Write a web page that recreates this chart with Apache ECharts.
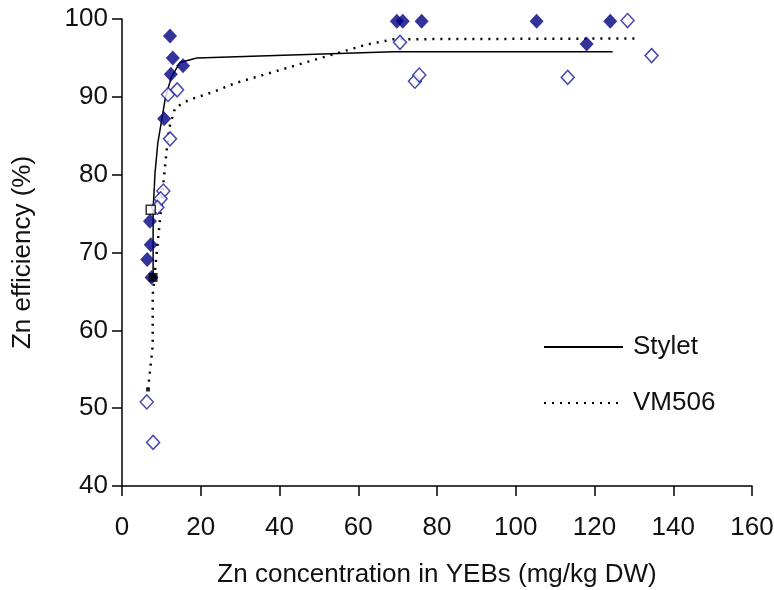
<!DOCTYPE html>
<html>
<head>
<meta charset="utf-8">
<script src="https://cdn.jsdelivr.net/npm/echarts@6/dist/echarts.min.js"></script>
<style>html,body{margin:0;padding:0;background:#fff}#c{width:774px;height:590px}</style>
</head>
<body>
<div id="c"></div>
<script>
// Observed data: Stylet (filled diamonds)
var styletPoints = [[12.2,97.8],[12.9,95],[15.5,94],[12.4,92.9],[10.7,87.2],[7.1,74],[7.3,71],[6.4,69.1],[7.5,66.8],
  [69.8,99.7],[71.3,99.7],[76.1,99.7],[105.3,99.7],[124,99.7],[118,96.8]];
// Observed data: VM506 (open diamonds)
var vm506Points = [[11.7,90.3],[14,90.9],[12.2,84.6],[10.5,77.9],[9.8,76.9],[9.0,75.8],[6.3,50.8],[7.9,45.6],
  [70.6,97],[74.4,92],[75.5,92.8],[128.4,99.8],[134.5,95.3],[113.2,92.5]];
// Fitted curves
var styletFit = [[7.9,66.8],[7.9,75.5],[8.4,80.3],[9.1,84.1],[10.1,87.1],[11,89.8],[12.5,92.5],[14.7,94.4],[19,95],[69,95.8],[124.6,95.8]];
var vm506Fit = [[6.6,52.4],[7.8,58],[7.8,64.5],[8.5,68.3],[9.5,73.5],[11,81.5],[12,86],[13.5,88.6],[17,89.6],[23,90.6],[29,91.8],[62,96.7],[69,97.4],[131.5,97.5]];
// Extra square markers
var openSquares = [[7.3,75.5]];
var filledSquares = [[7.9,66.8]];
var smallSquares = [[6.6,52.4]];
var xTicks = {min:0, max:160, interval:20};
var yTicks = {min:40, max:100, interval:10};

var FONT = 'Liberation Sans';
var chart = echarts.init(document.getElementById('c'));
chart.setOption({
  animation:false,
  backgroundColor:'#fff',
  textStyle:{fontFamily:FONT},
  grid:{left:122, right:22, top:19, bottom:104, containLabel:false, outerBoundsMode:'none'},
  xAxis:{type:'value', min:xTicks.min, max:xTicks.max, interval:xTicks.interval,
    name:'Zn concentration in YEBs (mg/kg DW)', nameLocation:'middle', nameGap:76,
    nameTextStyle:{fontSize:26, color:'#111', fontFamily:FONT},
    axisLine:{lineStyle:{color:'#000', width:1.5}},
    axisTick:{inside:false, length:10, lineStyle:{color:'#000', width:1.5}},
    axisLabel:{fontSize:26, color:'#111', margin:29, fontFamily:FONT},
    splitLine:{show:false}},
  yAxis:{type:'value', min:yTicks.min, max:yTicks.max, interval:yTicks.interval,
    name:'Zn efficiency (%)', nameLocation:'middle', nameGap:86,
    nameTextStyle:{fontSize:26, color:'#111', fontFamily:FONT},
    axisLine:{show:true, lineStyle:{color:'#000', width:1.5}},
    axisTick:{show:true, inside:false, length:10, lineStyle:{color:'#000', width:1.5}},
    axisLabel:{fontSize:26, color:'#111', margin:14, fontFamily:FONT},
    splitLine:{show:false}},
  legend:{data:['Stylet','VM506'], orient:'vertical', left:543, top:334, padding:0, itemWidth:79, itemHeight:14, itemGap:30,
    itemStyle:{color:'transparent', borderColor:'transparent', opacity:0},
    textStyle:{fontSize:26, color:'#111', fontFamily:FONT, padding:[0,0,0,5]}},
  series:[
    {name:'Stylet', type:'line', data:styletFit, showSymbol:false, symbol:'none', z:2,
      lineStyle:{color:'#000', width:1.5, type:'solid'}, itemStyle:{color:'#000'}},
    {name:'VM506', type:'line', data:vm506Fit, showSymbol:false, symbol:'none', z:2,
      lineStyle:{color:'#000', width:2.5, type:[2,6]}, itemStyle:{color:'#000'}},
    {name:'StyletPts', type:'scatter', data:styletPoints, symbol:'diamond', symbolSize:[14,15], z:3,
      itemStyle:{color:'#000080'}},
    {name:'VM506Pts', type:'scatter', data:vm506Points, symbol:'diamond', symbolSize:[13,14], z:3,
      itemStyle:{color:'#fff', borderColor:'#1a1a9a', borderWidth:1.5}},
    {name:'OpenSq', type:'scatter', data:openSquares, symbol:'rect', symbolSize:9, z:4,
      itemStyle:{color:'#fff', borderColor:'#000', borderWidth:1.5}},
    {name:'FilledSq', type:'scatter', data:filledSquares, symbol:'rect', symbolSize:9, z:4,
      itemStyle:{color:'#000'}},
    {name:'SmallSq', type:'scatter', data:smallSquares, symbol:'rect', symbolSize:4, z:4,
      itemStyle:{color:'#000'}}
  ]
});
</script>
</body>
</html>
